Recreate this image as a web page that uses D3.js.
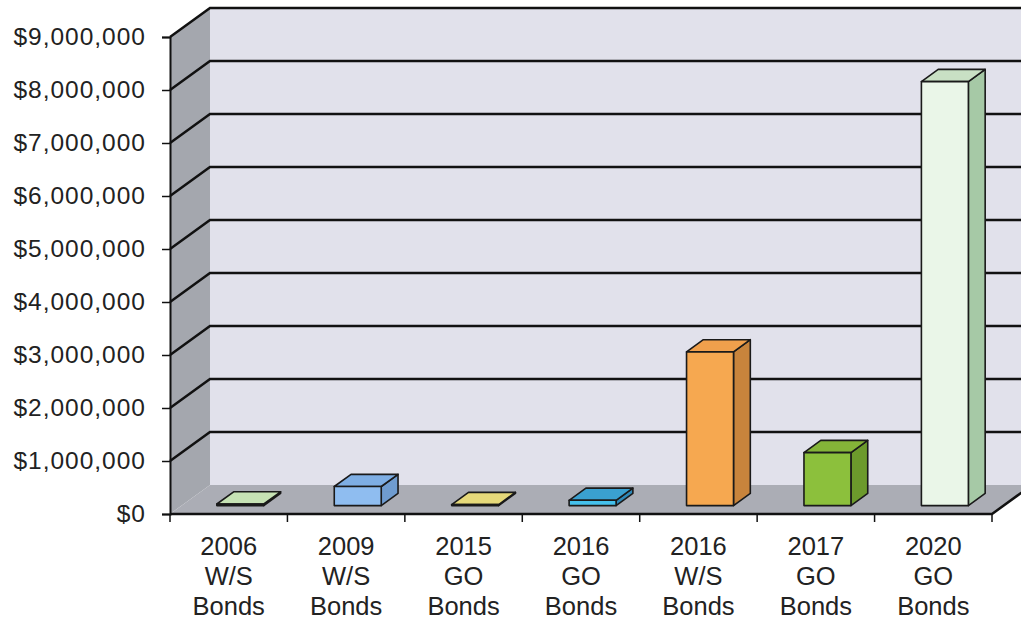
<!DOCTYPE html>
<html>
<head>
<meta charset="utf-8">
<script src="https://cdn.jsdelivr.net/npm/d3@7"></script>
<style>
  body { margin: 0; background: #fff; }
  svg { display: block; font-family: "Liberation Sans", Arial, sans-serif; }
</style>
</head>
<body>
<svg id="chart" width="1021" height="625"></svg>
<script>
// data
const categories = [
    ["2006", "W/S", "Bonds"],
    ["2009", "W/S", "Bonds"],
    ["2015", "GO", "Bonds"],
    ["2016", "GO", "Bonds"],
    ["2016", "W/S", "Bonds"],
    ["2017", "GO", "Bonds"],
    ["2020", "GO", "Bonds"]
];
const amounts = [30000, 360000, 20000, 100000, 2900000, 1000000, 8000000];
const yTickValues = [0, 1000000, 2000000, 3000000, 4000000, 5000000, 6000000, 7000000, 8000000, 9000000];

// front / top / side colours per bar
const barColors = [
    ["#b4d6a0", "#c6e2b4", "#9cc088"],
    ["#8fbdf0", "#7eaee4", "#6f9cd0"],
    ["#d8c860", "#e6d97a", "#c4b450"],
    ["#44c0ec", "#3aa0d0", "#2e88b8"],
    ["#f6a850", "#f0a04c", "#c8843c"],
    ["#8cc03c", "#84b438", "#6c9a2c"],
    ["#eaf6e8", "#c9e0c4", "#a6c9a6"]
];

const svg = d3.select("#chart");
const plotLeft = 170, plotRight = 992, plotTop = 37, plotBottom = 514;
const DX = 40, DY = 29;     // depth offset of the back wall
const d0 = 0.29, d1 = 0.71; // bar depth inside the floor

const keys = categories.map(c => c.join(" "));
const x = d3.scaleBand().domain(keys).range([plotLeft, plotRight])
    .paddingInner(0.6).paddingOuter(0.3);
const y = d3.scaleLinear().domain([0, 9000000]).range([plotBottom, plotTop]);

const P = (px, v, d) => [px + DX * d, y(v) - DY * d];
const poly = pts => "M" + pts.map(p => p.join(",")).join("L") + "Z";

// walls and floor
svg.append("path")
    .attr("d", poly([P(plotLeft, 0, 1), P(plotRight + 60, 0, 1), P(plotRight + 60, 9000000, 1), P(plotLeft, 9000000, 1)]))
    .attr("fill", "#e1e1eb");
svg.append("path")
    .attr("d", poly([P(plotLeft, 0, 0), P(plotLeft, 0, 1), P(plotLeft, 9000000, 1), P(plotLeft, 9000000, 0)]))
    .attr("fill", "#a4a7ae");
svg.append("path")
    .attr("d", poly([P(plotLeft, 0, 0), P(plotLeft, 0, 1), P(plotRight, 0, 1), P(plotRight, 0, 0)]))
    .attr("fill", "#abadb5");

// gridlines: along the side wall, then across the back wall
const grid = svg.append("g").attr("stroke", "#111").attr("stroke-width", 2.5).attr("fill", "none");
grid.selectAll("path")
    .data(yTickValues.filter(v => v > 0))
    .join("path")
    .attr("d", v => "M" + P(plotLeft, v, 0).join(",") + "L" + P(plotLeft, v, 1).join(",") + "L" + P(plotRight + 60, v, 1).join(","));

// bars
const bars = svg.append("g").attr("stroke", "#1a1a1a").attr("stroke-width", 1.6).attr("stroke-linejoin", "round");
amounts.forEach((v, i) => {
    const x0 = x(keys[i]), x1 = x0 + x.bandwidth();
    const c = barColors[i];
    const g = bars.append("g");
    g.append("path").attr("fill", c[2])
        .attr("d", poly([P(x1, v, d0), P(x1, v, d1), P(x1, 0, d1), P(x1, 0, d0)]));
    g.append("path").attr("fill", c[1])
        .attr("d", poly([P(x0, v, d0), P(x0, v, d1), P(x1, v, d1), P(x1, v, d0)]));
    g.append("path").attr("fill", c[0])
        .attr("d", poly([P(x0, v, d0), P(x1, v, d0), P(x1, 0, d0), P(x0, 0, d0)]));
});

// floor front edge and right edge
svg.append("path")
    .attr("d", "M" + P(plotLeft, 0, 0).join(",") + "L" + P(plotRight, 0, 0).join(",") + "L" + P(plotRight, 0, 1).join(","))
    .attr("fill", "none").attr("stroke", "#111").attr("stroke-width", 2.5);

// y axis
const yAxis = svg.append("g")
    .attr("transform", `translate(${plotLeft},0)`)
    .call(d3.axisLeft(y).tickValues(yTickValues).tickFormat(d3.format("$,")).tickSize(8).tickPadding(16));
yAxis.select(".domain").attr("stroke", "#111").attr("stroke-width", 2);
yAxis.selectAll(".tick line").attr("stroke", "#111").attr("stroke-width", 1.5);
yAxis.selectAll(".tick text").attr("font-size", 24.5).attr("fill", "#222")
    .attr("letter-spacing", 1)
    .attr("font-family", "Liberation Sans, Arial, sans-serif");

// x axis: ticks between categories, three-line labels
const bounds = d3.range(keys.length + 1).map(i => plotLeft + i * x.step());
svg.append("g").selectAll("line")
    .data(bounds)
    .join("line")
    .attr("x1", d => d).attr("x2", d => d)
    .attr("y1", plotBottom).attr("y2", plotBottom + 8)
    .attr("stroke", "#111").attr("stroke-width", 1.5);

const labels = svg.append("g")
    .attr("font-size", 25.5).attr("fill", "#222").attr("text-anchor", "middle");
labels.selectAll("text")
    .data(categories)
    .join("text")
    .attr("x", (d, i) => x(keys[i]) + x.bandwidth() / 2)
    .attr("y", 555)
    .selectAll("tspan")
    .data(d => d)
    .join("tspan")
    .attr("x", function () { return this.parentNode.getAttribute("x"); })
    .attr("dy", (d, j) => j === 0 ? 0 : 30)
    .text(d => d);
</script>
</body>
</html>
